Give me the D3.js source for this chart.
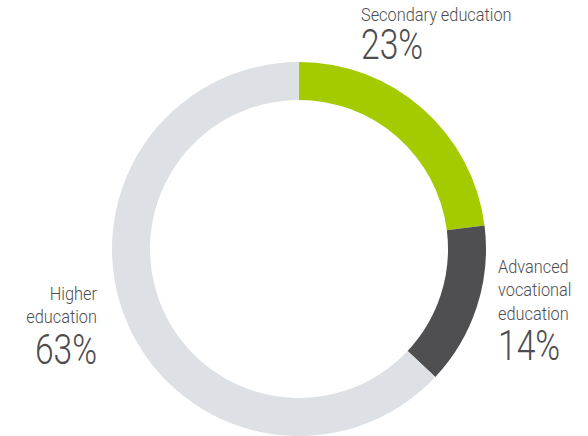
<!DOCTYPE html>
<html>
<head>
<meta charset="utf-8">
<script src="https://cdn.jsdelivr.net/npm/d3@7"></script>
<style>
  body { margin: 0; background: #fff; }
  text { font-family: Roboto, "Liberation Sans", sans-serif; font-weight: 300; fill: #4d4d4f; }
</style>
</head>
<body>
<div id="chart"></div>
<script>
// data
const categories = ["Secondary education", "Advanced vocational education", "Higher education"];
const values = [23, 14, 63];
const colors = ["#a4ca00", "#4f4f51", "#dde0e4"];

const width = 588, height = 436;
const cx = 299, cy = 249, outerR = 187, innerR = 149;

const svg = d3.select("#chart").append("svg")
  .attr("width", width).attr("height", height);

const pie = d3.pie().sort(null).value(d => d);
const arc = d3.arc().innerRadius(innerR).outerRadius(outerR);

const g = svg.append("g").attr("transform", `translate(${cx},${cy})`);
g.selectAll("path")
  .data(pie(values))
  .join("path")
  .attr("d", arc)
  .attr("fill", (d, i) => colors[i]);

// labels: lines of the category name, then the big percentage
const labels = [
  { lines: ["Secondary education"], x: 361, y: 21, anchor: "start", pctY: 59 },
  { lines: ["Advanced", "vocational", "education"], x: 498, y: 273, anchor: "start", pctY: 360 },
  { lines: ["Higher", "education"], x: 97, y: 300, anchor: "end", pctY: 364 }
];

labels.forEach((l, i) => {
  const lg = svg.append("g")
    .attr("transform", `translate(${l.x},0) scale(0.86,1)`);
  l.lines.forEach((t, j) => {
    lg.append("text")
      .attr("x", 0).attr("y", l.y + j * 23.5)
      .attr("text-anchor", l.anchor)
      .style("font-size", "19px")
      .text(t);
  });
  svg.append("g")
    .attr("transform", `translate(${l.x},0) scale(0.8,1)`)
    .append("text")
    .attr("x", 0).attr("y", l.pctY)
    .attr("text-anchor", l.anchor)
    .style("font-size", "42px")
    .text(values[i] + "%");
});
</script>
</body>
</html>
